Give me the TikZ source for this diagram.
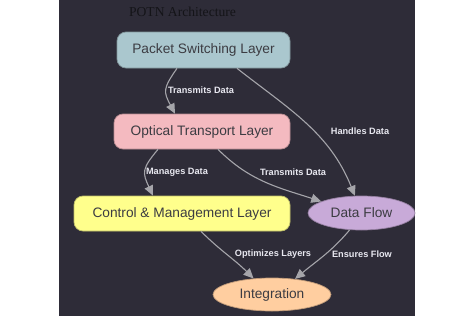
\documentclass[tikz,border=0pt]{standalone}
\usepackage{fontspec}
\setmainfont{Liberation Sans}
\newfontfamily\titlefont{Liberation Serif}
\usetikzlibrary{arrows.meta,shapes.geometric}
\definecolor{bgdark}{RGB}{46,44,56}
\definecolor{pslc}{RGB}{170,199,206}
\definecolor{otlc}{RGB}{244,186,192}
\definecolor{cmlc}{RGB}{255,255,140}
\definecolor{dfc}{RGB}{200,170,216}
\definecolor{intc}{RGB}{255,206,160}
\definecolor{edgec}{RGB}{165,165,170}
\definecolor{labc}{RGB}{232,232,240}
\definecolor{txtc}{RGB}{60,60,66}
\definecolor{titc}{RGB}{20,20,24}
\tikzset{
  layerbox/.style={rectangle, rounded corners=9pt, draw=#1!75!black, line width=0.7pt, fill=#1, text=txtc, inner sep=0pt, font=\fontsize{13.7}{16}\selectfont},
  ellnode/.style={ellipse, draw=#1!75!black, line width=0.7pt, fill=#1, text=txtc, inner sep=0pt, font=\fontsize{13.7}{16}\selectfont},
  conn/.style={draw=edgec, line width=1.1pt, -{Triangle[length=10pt,width=9pt]}},
  elabel/.style={text=labc, font=\bfseries\fontsize{9.2}{11}\selectfont, inner sep=1pt}
}
\begin{document}
\begin{tikzpicture}[x=1pt,y=1pt]
\useasboundingbox (0,-316) rectangle (474,0);
\fill[white] (0,-316) rectangle (474,0);
\fill[bgdark] (59,-316) rectangle (415,0);
\node[text=titc, font=\titlefont\fontsize{13.6}{16}\selectfont] (title) at (182.5,-12) {POTN Architecture};
\node[layerbox=pslc, minimum width=173pt, minimum height=36pt] (psl) at (203.5,-50) {Packet Switching Layer};
\node[layerbox=otlc, minimum width=176pt, minimum height=35pt] (otl) at (202,-131.5) {Optical Transport Layer};
\node[layerbox=cmlc, minimum width=216pt, minimum height=35pt] (cml) at (182,-213.5) {Control \& Management Layer};
\node[ellnode=dfc, minimum width=107pt, minimum height=34pt] (df) at (361.5,-213) {Data Flow};
\node[ellnode=intc, minimum width=118pt, minimum height=33pt] (int) at (272,-294.5) {Integration};
\draw[conn] ([xshift=-26.5pt]psl.south) to[out=-125,in=118,looseness=1.4] ([xshift=-27pt]otl.north);
\draw[conn] ([xshift=33.5pt]psl.south) to[out=-38,in=112] (df.111);
\draw[conn] ([xshift=-44pt]otl.south) to[out=-130,in=115,looseness=1.4] ([xshift=-29pt]cml.north);
\draw[conn] ([xshift=16pt]otl.south) to[out=-45,in=162] (df.164);
\draw[conn] ([xshift=19pt]cml.south) to[out=-45,in=135] (int.139);
\draw[conn] (df.235) to[out=-130,in=40] (int.34);
\node[elabel] (l1) at (201,-90) {Transmits Data};
\node[elabel] (l2) at (360,-131) {Handles Data};
\node[elabel] (l3) at (177,-172) {Manages Data};
\node[elabel] (l4) at (293,-172) {Transmits Data};
\node[elabel] (l5) at (273,-254) {Optimizes Layers};
\node[elabel] (l6) at (362,-254) {Ensures Flow};
\end{tikzpicture}
\end{document}
